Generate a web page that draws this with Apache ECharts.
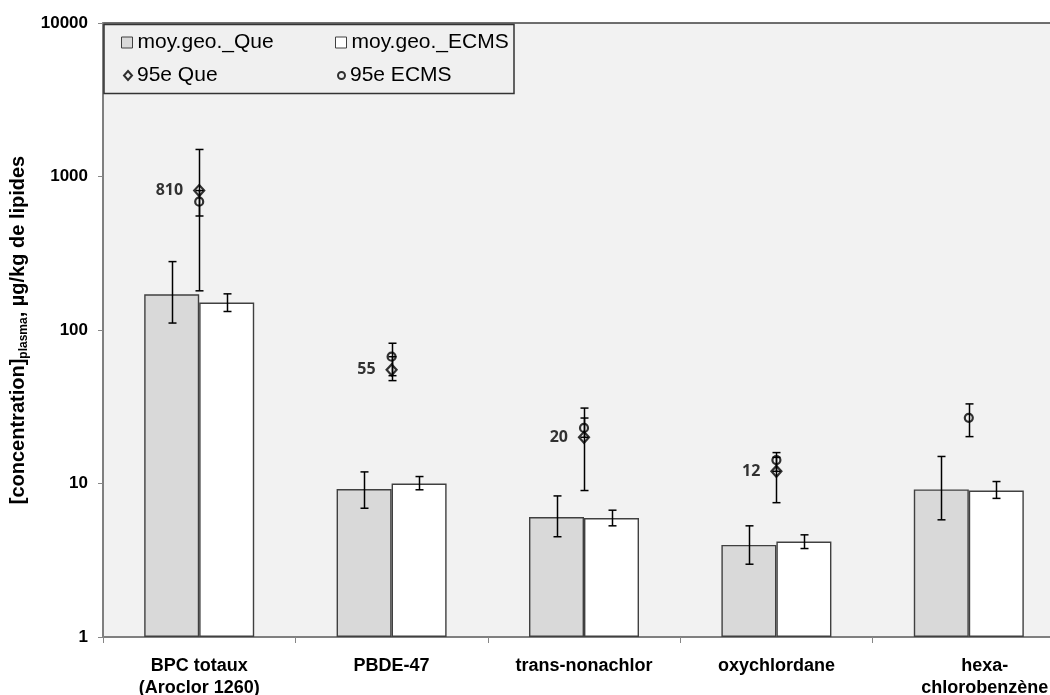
<!DOCTYPE html>
<html>
<head>
<meta charset="utf-8">
<script src="https://cdn.jsdelivr.net/npm/echarts@6/dist/echarts.min.js"></script>
<style>
  html, body { margin: 0; padding: 0; background: #ffffff; }
  #chart { width: 1050px; height: 695px; }
</style>
</head>
<body>
<div id="chart"></div>
<script>
// Substances (category axis)
const categories = ['BPC totaux\n(Aroclor 1260)', 'PBDE-47', 'trans-nonachlor', 'oxychlordane', 'hexa-\nchlorobenzène'];

// Geometric means with their confidence limits (µg/kg de lipides)
const geoQue      = [171, 9.2, 6.05, 3.98, 9.15];
const geoQueLow   = [111, 6.9, 4.5, 2.98, 5.8];
const geoQueHigh  = [279, 11.9, 8.3, 5.3, 15.0];
const geoEcms     = [151, 10.0, 5.95, 4.19, 9.0];
const geoEcmsLow  = [132, 9.1, 5.3, 3.77, 8.0];
const geoEcmsHigh = [172, 11.1, 6.7, 4.63, 10.3];

// 95th percentiles with their confidence limits
const p95Que      = [810, 55, 20, 12, null];
const p95QueLow   = [180, 46.8, 9.0, 7.5, null];
const p95QueHigh  = [1500, 82, 31, 15.9, null];
const p95Ecms     = [685, 67, 23, 14.2, 26.8];
const p95EcmsLow  = [553, 50.4, 20, 12, 20.2];
const p95EcmsHigh = [810, 67, 26.7, 14.8, 33];

// Y axis tick labels
const yTicks = [1, 10, 100, 1000, 10000];

const BAR_W = 55;

function errData(low, high) {
  const out = [];
  for (let i = 0; i < low.length; i++) {
    if (low[i] != null && high[i] != null) out.push([i, low[i], high[i]]);
  }
  return out;
}

// Vertical error bar with caps, shifted horizontally by `offset` pixels from the category centre
function errorBarSeries(name, low, high, offset) {
  return {
    type: 'custom',
    name: name,
    z: 5,
    silent: true,
    data: errData(low, high),
    encode: { x: 0, y: [1, 2] },
    renderItem: function (params, api) {
      const lo = api.coord([api.value(0), api.value(1)]);
      const hi = api.coord([api.value(0), api.value(2)]);
      const x = Math.round(lo[0] + offset) + 0.5;
      const cap = 4;
      const style = { stroke: '#000000', lineWidth: 1.5 };
      return {
        type: 'group',
        children: [
          { type: 'line', shape: { x1: x, y1: lo[1], x2: x, y2: hi[1] }, style: style },
          { type: 'line', shape: { x1: x - cap, y1: lo[1], x2: x + cap, y2: lo[1] }, style: style },
          { type: 'line', shape: { x1: x - cap, y1: hi[1], x2: x + cap, y2: hi[1] }, style: style }
        ]
      };
    }
  };
}

const chart = echarts.init(document.getElementById('chart'), null, { renderer: 'canvas' });

const legendText = { fontFamily: 'Liberation Sans, Arial, sans-serif', fontSize: 21, color: '#000' };
function legendAt(item, left, top, w, h) {
  return {
    data: [item], left: left, top: top, padding: 0, orient: 'horizontal',
    itemWidth: w, itemHeight: h, textStyle: legendText, selectedMode: false, z: 20
  };
}

chart.setOption({
  backgroundColor: '#ffffff',
  animation: false,
  graphic: [
    {
      type: 'rect', z: 10,
      shape: { x: 104, y: 24.5, width: 410, height: 69 },
      style: { fill: '#f0f0f0', stroke: '#333333', lineWidth: 1.5 }
    }
  ],
  legend: [
    legendAt({ name: 'moy.geo._Que', icon: 'rect', itemStyle: { color: '#d9d9d9', borderColor: '#404040', borderWidth: 1 } }, 121, 32, 11, 11),
    legendAt({ name: 'moy.geo._ECMS', icon: 'rect', itemStyle: { color: '#ffffff', borderColor: '#404040', borderWidth: 1 } }, 335, 32, 11, 11),
    legendAt({ name: '95e Que', icon: 'diamond' }, 123, 65, 8, 9),
    legendAt({ name: '95e ECMS', icon: 'circle' }, 337, 65, 7, 7)
  ],
  grid: {
    left: 103, top: 23, width: 962, height: 614,
    outerBoundsMode: 'none',
    containLabel: false,
    show: true, backgroundColor: '#f2f2f2', borderColor: '#404040', borderWidth: 1.5
  },
  xAxis: {
    type: 'category',
    data: categories,
    boundaryGap: true,
    axisLine: { lineStyle: { color: '#868686', width: 1.5 } },
    axisTick: { show: true, length: 6, lineStyle: { color: '#868686' } },
    axisLabel: {
      interval: 0,
      margin: 18,
      lineHeight: 22,
      fontFamily: 'Liberation Sans, Arial, sans-serif',
      fontWeight: 'bold',
      fontSize: 18,
      color: '#000',
      formatter: function (v, i) {
        return i === 4 ? v.split('\n').map(s => '{h|' + s + '}').join('\n') : v;
      },
      rich: {
        h: {
          fontFamily: 'Liberation Sans, Arial, sans-serif',
          fontWeight: 'bold', fontSize: 18, lineHeight: 22, color: '#000',
          padding: [0, 0, 0, 32]
        }
      }
    }
  },
  yAxis: {
    type: 'log',
    logBase: 10,
    min: 1,
    max: 10000,
    splitLine: { show: false },
    minorTick: { show: false },
    axisLine: { show: true, lineStyle: { color: '#868686', width: 1.5 } },
    axisTick: { show: true, length: 5, lineStyle: { color: '#868686' } },
    axisLabel: {
      margin: 15,
      fontFamily: 'Liberation Sans, Arial, sans-serif',
      fontWeight: 'bold',
      fontSize: 17,
      color: '#000',
      formatter: function (v) { return yTicks.indexOf(Math.round(v)) >= 0 ? String(Math.round(v)) : ''; }
    },
    name: '{m|[concentration]}{s|plasma}{m|, µg/kg de lipides}',
    nameLocation: 'middle',
    nameGap: 68,
    nameRotate: 90,
    nameTextStyle: {
      rich: {
        m: { fontFamily: 'Liberation Sans, Arial, sans-serif', fontWeight: 'bold', fontSize: 20, color: '#000', lineHeight: 24 },
        s: { fontFamily: 'Liberation Sans, Arial, sans-serif', fontWeight: 'bold', fontSize: 12, color: '#000', lineHeight: 24, padding: [10, 0, 0, 0] }
      }
    }
  },
  series: [
    {
      name: 'moy.geo._Que', type: 'bar', data: geoQue,
      barWidth: BAR_W, barGap: '0%',
      itemStyle: { color: '#d9d9d9', borderColor: '#404040', borderWidth: 1.4 },
      z: 2
    },
    {
      name: 'moy.geo._ECMS', type: 'bar', data: geoEcms,
      barWidth: BAR_W, barGap: '0%',
      itemStyle: { color: '#ffffff', borderColor: '#404040', borderWidth: 1.4 },
      z: 2
    },
    errorBarSeries('err geo Que', geoQueLow, geoQueHigh, -BAR_W / 2),
    errorBarSeries('err geo ECMS', geoEcmsLow, geoEcmsHigh, BAR_W / 2),
    errorBarSeries('err 95e Que', p95QueLow, p95QueHigh, 0),
    errorBarSeries('err 95e ECMS', p95EcmsLow, p95EcmsHigh, 0),
    {
      name: '95e Que', type: 'scatter', data: p95Que,
      symbol: 'diamond', symbolSize: [10, 11], z: 6,
      itemStyle: { color: 'rgba(0,0,0,0)', borderColor: '#000000', borderWidth: 2.2 },
      label: {
        show: true, position: 'left', distance: 10,
        fontFamily: 'Open Sans, Lato, sans-serif', fontWeight: 'bold', fontSize: 16, color: '#000000',
        formatter: function (p) { return p.value; }
      }
    },
    {
      name: '95e ECMS', type: 'scatter', data: p95Ecms,
      symbol: 'circle', symbolSize: 8, z: 6,
      itemStyle: { color: 'rgba(0,0,0,0)', borderColor: '#000000', borderWidth: 2.2 }
    }
  ]
});
</script>
</body>
</html>
